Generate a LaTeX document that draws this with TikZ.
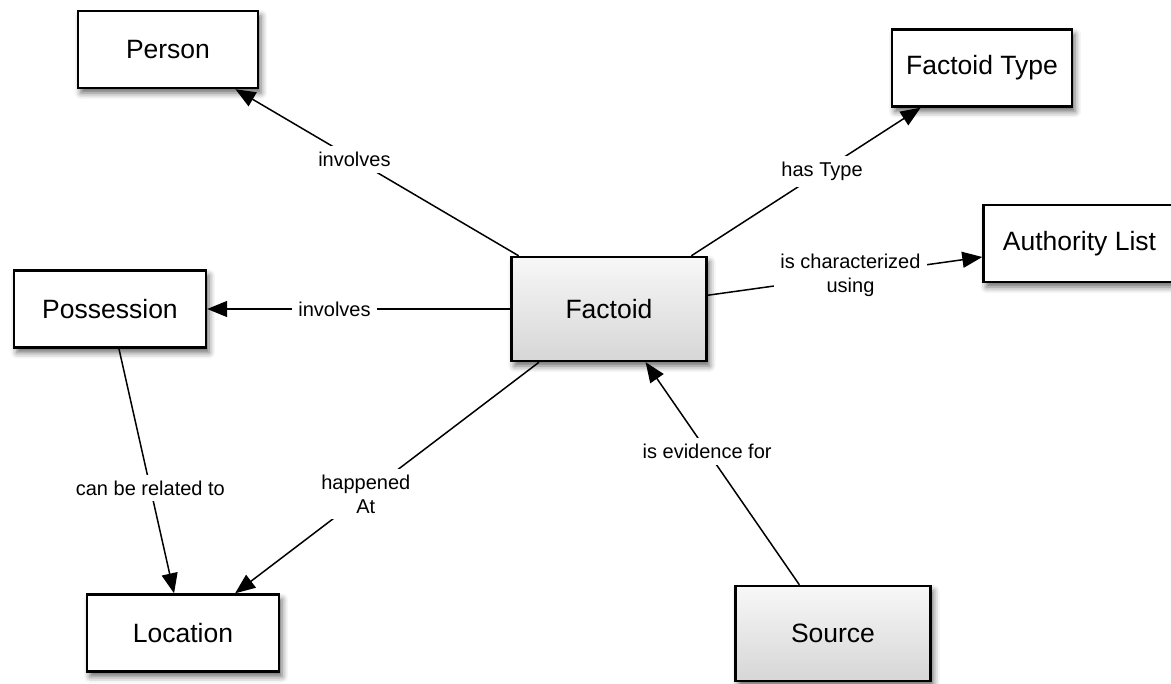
\documentclass[tikz,border=0pt]{standalone}
\usepackage{fontspec}
\setmainfont{Liberation Sans}
\usetikzlibrary{positioning,arrows.meta,shadows.blur}

\begin{document}
\begin{tikzpicture}[
    > = {Triangle[length=10pt,width=8pt]},
    line width = 0.75pt,
    on grid,
    entity/.style={rectangle, draw, line width=1.2pt, fill=white,
        minimum width=96pt, minimum height=38.5pt,
        font=\fontsize{13.25}{16}\selectfont,
        blur shadow={shadow xshift=1.5pt, shadow yshift=-2.5pt,
            shadow blur radius=3pt, shadow opacity=60}},
    core/.style={entity, top color=black!3, bottom color=black!16,
        minimum width=97.5pt},
    rel/.style={fill=white, inner sep=3pt, align=center,
        font=\fontsize{10}{12}\selectfont}
]

% Frame
\useasboundingbox (-304.5pt,-187.5pt) rectangle (281pt,154.5pt);

% Entities
\node[core, minimum height=52pt] (factoid) {Factoid};
\node[entity, minimum width=90pt] (person) [above left=129.75pt and 220.5pt of factoid] {Person};
\node[entity, minimum width=90pt] (ftype) [above right=120.5pt and 186.5pt of factoid] {Factoid Type};
\node[entity] (authority) [above right=32.75pt and 235.25pt of factoid] {Authority List};
\node[entity] (possession) [left=249.5pt of factoid] {Possession};
\node[entity] (location) [below left=162pt and 213pt of factoid] {Location};
\node[core, minimum height=47.5pt] (source) [below right=162.25pt and 112pt of factoid] {Source};

% Relations from Factoid
\path[->]
    (factoid) edge node[rel, pos=0.58] {involves} (person)
    (factoid) edge node[rel, pos=0.58] {involves} (possession)
    (factoid) edge node[rel, pos=0.57] {has Type} (ftype)
    (factoid) edge node[rel, pos=0.52] {is characterized\\using} (authority)
    (factoid) edge node[rel, pos=0.57] {happened\\At} (location);

% Other relations
\path[->]
    (possession) edge node[rel, pos=0.57] {can be related to} (location)
    (source) edge node[rel, pos=0.6] {is evidence for} (factoid);

\end{tikzpicture}
\end{document}
